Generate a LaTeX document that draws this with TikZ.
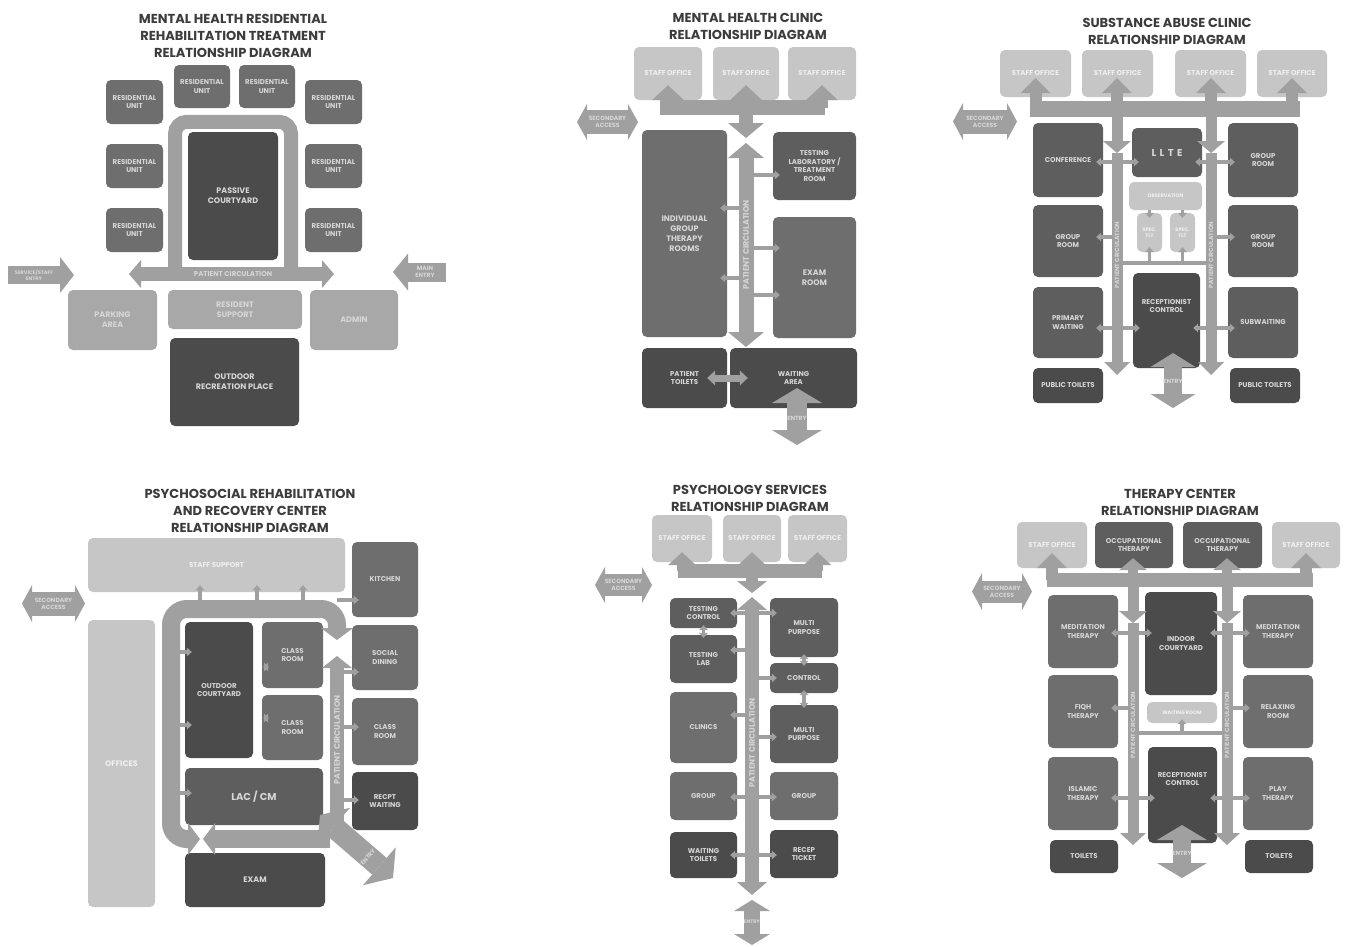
\documentclass[tikz,border=0pt]{standalone}
\usepackage{fontspec}
\setmainfont{Poppins}
\usetikzlibrary{arrows.meta}
\definecolor{dkgray}{HTML}{4B4B4B}
\definecolor{mdkgray}{HTML}{5E5E5E}
\definecolor{mdgray}{HTML}{6E6E6E}
\definecolor{ltgray}{HTML}{A8A8A8}
\definecolor{plgray}{HTML}{C6C6C6}
\definecolor{argray}{HTML}{A0A0A0}
\definecolor{txgray}{HTML}{D6D6D6}
\definecolor{ttgray}{HTML}{3C3C3C}
\def\fntt{\fontsize{13}{17}\bfseries\selectfont}
\def\fntxs{\fontsize{5}{6}\bfseries\selectfont}
\def\fntc{\fontsize{6}{7}\bfseries\selectfont}
\def\fnts{\fontsize{7}{8.5}\bfseries\selectfont}
\def\fntm{\fontsize{8}{10}\bfseries\selectfont}
\def\fntl{\fontsize{10}{12}\bfseries\selectfont}

\begin{document}
\begin{tikzpicture}[x=1pt,y=-1pt,
    room/.style={rounded corners=5pt,align=center,text=txgray,inner sep=1pt,font=\fnts},
    dark/.style={room,fill=dkgray},
    mdark/.style={room,fill=mdkgray},
    mid/.style={room,fill=mdgray},
    light/.style={room,fill=ltgray},
    pale/.style={room,fill=plgray,text=white!94!black},
    sz/.style 2 args={minimum width=#1pt,minimum height=#2pt},
    heading/.style={align=center,text=ttgray,font=\fntt},
    tag/.style={align=center,text=txgray,font=\fntc,inner sep=0pt},
    rail/.style={draw=argray,line width=#1pt},
    fat/.style n args={3}{draw=argray,line width=#1pt,-{Triangle[width=#2pt,length=#3pt,line width=0pt]}},
    fatb/.style n args={3}{draw=argray,line width=#1pt,{Triangle[width=#2pt,length=#3pt,line width=0pt]}-{Triangle[width=#2pt,length=#3pt,line width=0pt]}},
    link/.style={draw=argray,line width=3.5pt,shorten >=-7pt,-{Triangle[width=9pt,length=5pt,line width=0pt]}},
    linkb/.style={link,shorten <=-7pt,{Triangle[width=9pt,length=5pt,line width=0pt]}-{Triangle[width=9pt,length=5pt,line width=0pt]}}]
    \fill[white] (0,0) rectangle (1346,946);
    \useasboundingbox (0,0) rectangle (1346,946);

    \begin{scope}
        \node[heading] (T1) at (233,36) {MENTAL HEALTH RESIDENTIAL\\REHABILITATION TREATMENT\\RELATIONSHIP DIAGRAM};
        \node[mid,sz={57}{44}] (RU1) at (134.5,102) {RESIDENTIAL\\UNIT};
        \node[mid,sz={56}{43}] (RU2) at (202,86.5) {RESIDENTIAL\\UNIT};
        \node[mid,sz={56}{43}] (RU3) at (267,86.5) {RESIDENTIAL\\UNIT};
        \node[mid,sz={57}{44}] (RU4) at (333.5,102) {RESIDENTIAL\\UNIT};
        \node[mid,sz={57}{44}] (RU5) at (134.5,166) {RESIDENTIAL\\UNIT};
        \node[mid,sz={57}{44}] (RU6) at (333.5,166) {RESIDENTIAL\\UNIT};
        \node[mid,sz={57}{44}] (RU7) at (134.5,230) {RESIDENTIAL\\UNIT};
        \node[mid,sz={57}{44}] (RU8) at (333.5,230) {RESIDENTIAL\\UNIT};
        \node[dark,sz={90}{128},font=\fntm] (PC1) at (233,196) {PASSIVE\\COURTYARD};
        \node[light,sz={89}{60},font=\fntm] (PA1) at (112.5,320) {PARKING\\AREA};
        \node[light,sz={134}{39},font=\fntm] (RS1) at (235,309.5) {RESIDENT\\SUPPORT};
        \node[light,sz={88}{60},font=\fntm] (AD1) at (354,320) {ADMIN};
        \node[dark,sz={129}{88},font=\fntm] (OR1) at (234.5,382) {OUTDOOR\\RECREATION PLACE};

        \coordinate (UL1) at (175,274);
        \coordinate (UR1) at (291,274);
        \coordinate (CL1) at (129,274);
        \coordinate (CR1) at (334,274);
        \coordinate (SE1a) at (8,275);
        \coordinate (SE1b) at (74,275);
        \coordinate (ME1a) at (446,272);
        \coordinate (ME1b) at (393,272);
        \draw[rail=14,rounded corners=12pt] (UL1) |- ([yshift=10pt]PC1.north) -| (UR1);
        \draw[fatb={14}{28}{12}] (CL1) -- (CR1);
        \draw[fat={18}{36}{14}] (SE1a) -- (SE1b);
        \draw[fat={19}{37}{15}] (ME1a) -- (ME1b);
        \node[tag,font=\fnts] (PCT1) at (233,274) {PATIENT CIRCULATION};
        \node[tag,font=\fntxs] (SET1) at (34,275) {SERVICE/STAFF\\ENTRY};
        \node[tag] (MET1) at (425,272) {MAIN\\ENTRY};
    \end{scope}

    \begin{scope}
        \node[heading] (T2) at (748,26.5) {MENTAL HEALTH CLINIC\\RELATIONSHIP DIAGRAM};
        \node[pale,sz={68}{53}] (SO2a) at (668,73.5) {STAFF OFFICE};
        \node[pale,sz={66}{53}] (SO2b) at (746,73.5) {STAFF OFFICE};
        \node[pale,sz={68}{53}] (SO2c) at (822,73.5) {STAFF OFFICE};
        \node[mid,sz={85}{207},font=\fntm] (IG2) at (684.5,233.5) {INDIVIDUAL\\GROUP\\THERAPY\\ROOMS};
        \node[mdark,sz={83}{68}] (TL2) at (814.5,166) {TESTING\\LABORATORY /\\TREATMENT\\ROOM};
        \node[mid,sz={83}{121},font=\fntm] (ER2) at (814.5,277.5) {EXAM\\ROOM};
        \node[dark,sz={85}{60}] (PT2) at (684.5,378) {PATIENT\\TOILETS};
        \node[dark,sz={127}{60}] (WA2) at (793.5,378) {WAITING\\AREA};

        \coordinate (B2L) at (660,107.5);
        \coordinate (B2R) at (825,107.5);
        \coordinate (PC2t) at (746,143);
        \coordinate (PC2b) at (746,347);
        \coordinate (SA2a) at (577,122);
        \coordinate (SA2b) at (638,122);
        \coordinate (EN2a) at (797,388);
        \coordinate (EN2b) at (797,445);
        \draw[rail=15] (B2L) -- (B2R);
        \draw[fat={12}{32}{15},shorten >=-15pt] (SO2a |- B2L) -- (SO2a.south);
        \draw[fat={12}{32}{15},shorten >=-15pt] (SO2b |- B2L) -- (SO2b.south);
        \draw[fat={12}{32}{15},shorten >=-15pt] (SO2c |- B2L) -- (SO2c.south);
        \draw[fat={14}{36}{15},shorten >=5pt] (SO2b |- B2L) -- (PC2t);
        \draw[fatb={15}{36}{15}] (PC2t) -- (PC2b);
        \draw[link] (PC2t |- 0,208) -- (IG2.east |- 0,208);
        \draw[link] (PC2t |- 0,278) -- (IG2.east |- 0,278);
        \draw[link] (PC2t |- 0,175) -- (TL2.west |- 0,175);
        \draw[link] (PC2t |- 0,248) -- (ER2.west |- 0,248);
        \draw[link] (PC2t |- 0,295) -- (ER2.west |- 0,295);
        \draw[fatb={7}{15}{8},shorten <=-20pt,shorten >=-18pt] (PT2.east) -- (WA2.west);
        \draw[fatb={24}{36}{10}] (SA2a) -- (SA2b);
        \draw[fatb={20}{50}{15}] (EN2a) -- (EN2b);
        \node[tag,font=\fntm,rotate=90] (PCT2) at (746,245) {PATIENT CIRCULATION};
        \node[tag] (SAT2) at (607.5,122) {SECONDARY\\ACCESS};
        \node[tag] (ENT2) at (797,418) {ENTRY};
    \end{scope}

    \begin{scope}
        \node[heading] (T3) at (1167,31.5) {SUBSTANCE ABUSE CLINIC\\RELATIONSHIP DIAGRAM};
        \node[pale,sz={71}{47}] (SF3a) at (1035.5,73.5) {STAFF OFFICE};
        \node[pale,sz={71}{47}] (SF3b) at (1117.5,73.5) {STAFF OFFICE};
        \node[pale,sz={71}{47}] (SF3c) at (1210.5,73.5) {STAFF OFFICE};
        \node[pale,sz={70}{47}] (SF3d) at (1292,73.5) {STAFF OFFICE};
        \node[mdark,sz={70}{74}] (CF3) at (1068,160) {CONFERENCE};
        \node[mdark,sz={70}{49},font=\fntl] (LL3) at (1167,152.5) {L\,\,L\,\,T\,\,E};
        \node[mdark,sz={70}{74}] (GR3a) at (1263,160) {GROUP\\ROOM};
        \node[pale,sz={73}{28},font=\fntxs] (OB3) at (1165.5,196) {OBSERVATION};
        \node[pale,sz={25}{39},font=\fntxs] (ST3a) at (1149.5,232.5) {SPEC.\\TLT};
        \node[pale,sz={25}{39},font=\fntxs] (ST3b) at (1182.5,232.5) {SPEC.\\TLT};
        \node[mdark,sz={70}{72}] (GR3b) at (1068,241) {GROUP\\ROOM};
        \node[mdark,sz={70}{72}] (GR3c) at (1263,241) {GROUP\\ROOM};
        \node[mdark,sz={70}{71}] (PW3) at (1068,322.5) {PRIMARY\\WAITING};
        \node[dark,sz={67}{95}] (RC3) at (1166.5,320.5) {};
        \node[mdark,sz={70}{71}] (SW3) at (1263,322.5) {SUBWAITING};
        \node[dark,sz={70}{35}] (PT3a) at (1068,385.5) {PUBLIC TOILETS};
        \node[dark,sz={70}{35}] (PT3b) at (1265,385.5) {PUBLIC TOILETS};

        \coordinate (B3L) at (1030,108.5);
        \coordinate (B3R) at (1300,108.5);
        \coordinate (M3a) at (1117,153);
        \coordinate (M3b) at (1211,153);
        \coordinate (E3a) at (1117,375);
        \coordinate (E3b) at (1211,375);
        \coordinate (SA3a) at (953,121.5);
        \coordinate (SA3b) at (1017,121.5);
        \coordinate (EN3a) at (1173,353);
        \coordinate (EN3b) at (1173,408);
        \draw[rail=16] (B3L) -- (B3R);
        \draw[fat={12}{30}{15},shorten >=-19pt] (SF3a |- B3L) -- (SF3a.south);
        \draw[fat={12}{30}{15},shorten >=-19pt] (M3a |- B3L) -- (SF3b.south -| M3a);
        \draw[fat={12}{30}{15},shorten >=-19pt] (M3b |- B3L) -- (SF3c.south -| M3b);
        \draw[fat={12}{30}{15},shorten >=-19pt] (SF3d |- B3L) -- (SF3d.south);
        \draw[fat={11}{28}{12}] (M3a |- B3L) -- (M3a);
        \draw[fat={11}{28}{12}] (M3b |- B3L) -- (M3b);
        \draw[fat={11}{26}{13}] (M3a) -- (E3a);
        \draw[fat={11}{26}{13}] (M3b) -- (E3b);
        \draw[rail=4] (M3a |- 0,263) -- (M3b |- 0,263);
        \draw[link,shorten >=-5pt] (ST3a |- 0,263) -- (ST3a.south);
        \draw[link,shorten >=-5pt] (ST3b |- 0,263) -- (ST3b.south);
        \draw[link,shorten >=-5pt] (OB3.south -| ST3a) -- (ST3a.north);
        \draw[link,shorten >=-5pt] (OB3.south -| ST3b) -- (ST3b.north);
        \draw[link] (M3a |- 0,162) -- (CF3.east |- 0,162);
        \draw[link] (M3a |- 0,162) -- (LL3.west |- 0,162);
        \draw[link] (M3b |- 0,162) -- (LL3.east |- 0,162);
        \draw[link] (M3b |- 0,162) -- (GR3a.west |- 0,162);
        \draw[link] (M3a |- 0,237) -- (GR3b.east |- 0,237);
        \draw[link] (M3b |- 0,237) -- (GR3c.west |- 0,237);
        \draw[link] (M3a |- 0,328) -- (PW3.east |- 0,328);
        \draw[link] (M3a |- 0,328) -- (RC3.west |- 0,328);
        \draw[link] (M3b |- 0,328) -- (RC3.east |- 0,328);
        \draw[link] (M3b |- 0,328) -- (SW3.west |- 0,328);
        \draw[fatb={24}{37}{10}] (SA3a) -- (SA3b);
        \draw[fatb={18}{45}{14}] (EN3a) -- (EN3b);
        \node[room] (RCT3) at (1166.5,306) {RECEPTIONIST\\CONTROL};
        \node[tag,rotate=90] (PCT3a) at (1117,255) {PATIENT CIRCULATION};
        \node[tag,rotate=90] (PCT3b) at (1211,255) {PATIENT CIRCULATION};
        \node[tag] (SAT3) at (985,121.5) {SECONDARY\\ACCESS};
        \node[tag] (ENT3) at (1173,381) {ENTRY};
    \end{scope}

    \begin{scope}
        \node[heading] (T4) at (250,510.5) {PSYCHOSOCIAL REHABILITATION\\AND RECOVERY CENTER\\RELATIONSHIP DIAGRAM};
        \node[pale,sz={257}{54}] (SS4) at (216.5,565) {STAFF SUPPORT};
        \node[mid,sz={66}{75}] (KI4) at (385,579.5) {KITCHEN};
        \node[pale,sz={67}{287},font=\fntm] (OF4) at (121.5,763.5) {OFFICES};
        \node[dark,sz={68}{136}] (OC4) at (219,690) {OUTDOOR\\COURTYARD};
        \node[mid,sz={61}{66}] (CR4a) at (292.5,655) {CLASS\\ROOM};
        \node[mid,sz={61}{65}] (CR4b) at (292.5,727.5) {CLASS\\ROOM};
        \node[mid,sz={66}{65}] (SD4) at (385,657.5) {SOCIAL\\DINING};
        \node[mid,sz={66}{67}] (CR4c) at (385,731.5) {CLASS\\ROOM};
        \node[dark,sz={66}{58}] (RW4) at (385,801) {RECPT\\WAITING};
        \node[mdark,sz={138}{57},font=\fntl] (LC4) at (254,796.5) {LAC / CM};
        \node[dark,sz={140}{54},font=\fntm] (EX4) at (255,880) {EXAM};

        \coordinate (LB4) at (200,839);
        \coordinate (LC4c) at (171,609);
        \coordinate (LT4) at (337,640);
        \coordinate (HB4) at (330,839);
        \coordinate (PB4) at (337,825);
        \coordinate (PT4) at (337,656);
        \coordinate (SA4a) at (22,603.5);
        \coordinate (SA4b) at (85,603.5);
        \coordinate (EN4a) at (320,815);
        \coordinate (EN4b) at (393,878);
        \draw[fatb={18}{32}{12},rounded corners=16pt] (LB4) -| (LC4c) -| (LT4);
        \draw[fat={18}{32}{12}] (HB4) -- ([xshift=3pt]LB4);
        \draw[fat={14}{30}{12}] (PB4) -- (PT4);
        \draw[fatb={22}{50}{18}] (EN4a) -- (EN4b);
        \draw[link] (LC4c -| 200,0) -- (SS4.south -| 200,0);
        \draw[link] (LC4c -| 257,0) -- (SS4.south -| 257,0);
        \draw[link] (LC4c -| 303,0) -- (SS4.south -| 303,0);
        \draw[link] (LT4 |- 0,600) -- (KI4.west |- 0,600);
        \draw[link,shorten >=12pt] (LC4c |- 0,687) -- (OF4.east |- 0,687);
        \draw[link,shorten >=12pt] (LC4c |- 0,725) -- (OF4.east |- 0,725);
        \draw[link,shorten >=12pt] (LC4c |- 0,762) -- (OF4.east |- 0,762);
        \draw[link,shorten >=12pt] (LC4c |- 0,800) -- (OF4.east |- 0,800);
        \draw[link] (LC4c |- 0,652) -- (OC4.west |- 0,652);
        \draw[link] (LC4c |- 0,725) -- (OC4.west |- 0,725);
        \draw[link] (LC4c |- 0,793) -- (LC4.west |- 0,793);
        \draw[linkb,shorten <=10pt] (OC4.east |- 0,667) -- (CR4a.west |- 0,667);
        \draw[linkb,shorten <=10pt] (OC4.east |- 0,718) -- (CR4b.west |- 0,718);
        \draw[linkb,shorten <=8pt] (CR4a.east |- 0,672) -- (SD4.west |- 0,672);
        \draw[linkb,shorten <=8pt] (CR4b.east |- 0,727) -- (CR4c.west |- 0,727);
        \draw[link] (PB4 |- 0,800) -- (RW4.west |- 0,800);
        \draw[linkb,shorten <=8pt,shorten >=8pt] (LC4.south -| 230,0) -- (EX4.north -| 230,0);
        \draw[linkb,shorten <=8pt,shorten >=8pt] (LC4.south -| 267,0) -- (EX4.north -| 267,0);
        \draw[linkb,shorten <=8pt,shorten >=8pt] (LC4.south -| 302,0) -- (EX4.north -| 302,0);
        \draw[fatb={24}{37}{10}] (SA4a) -- (SA4b);
        \node[tag,font=\fntm,rotate=90] (PCT4) at (337,740) {PATIENT CIRCULATION};
        \node[tag] (SAT4) at (53.5,603.5) {SECONDARY\\ACCESS};
        \node[tag,rotate=50] (ENT4) at (368,857) {ENTRY};
    \end{scope}

    \begin{scope}
        \node[heading] (T5) at (750,498) {PSYCHOLOGY SERVICES\\RELATIONSHIP DIAGRAM};
        \node[pale,sz={60}{47}] (SO5a) at (682,538.5) {STAFF OFFICE};
        \node[pale,sz={58}{47}] (SO5b) at (752,538.5) {STAFF OFFICE};
        \node[pale,sz={59}{47}] (SO5c) at (817.5,538.5) {STAFF OFFICE};
        \node[mdark,sz={67}{30}] (TC5) at (703.5,613) {TESTING\\CONTROL};
        \node[mdark,sz={67}{48}] (TL5) at (703.5,659) {TESTING\\LAB};
        \node[mid,sz={67}{71}] (CL5) at (703.5,727.5) {CLINICS};
        \node[mid,sz={67}{48}] (GL5) at (703.5,796) {GROUP};
        \node[dark,sz={67}{46}] (WT5) at (703.5,855) {WAITING\\TOILETS};
        \node[mdark,sz={68}{59}] (MP5a) at (804,627.5) {MULTI\\PURPOSE};
        \node[mdark,sz={68}{30}] (CO5) at (804,678) {CONTROL};
        \node[mdark,sz={68}{58}] (MP5b) at (804,734) {MULTI\\PURPOSE};
        \node[mid,sz={68}{48}] (GR5) at (804,796) {GROUP};
        \node[dark,sz={68}{48}] (RT5) at (804,854) {RECEP\\TICKET};

        \coordinate (B5L) at (678,570.5);
        \coordinate (B5R) at (822,570.5);
        \coordinate (PC5t) at (752,597);
        \coordinate (PC5b) at (752,895);
        \coordinate (SA5a) at (595,585);
        \coordinate (SA5b) at (652,585);
        \coordinate (EN5a) at (752,900);
        \coordinate (EN5b) at (752,945);
        \draw[rail=14] (B5L) -- (B5R);
        \draw[fat={11}{28}{13},shorten >=-10pt] (SO5a |- B5L) -- (SO5a.south);
        \draw[fat={11}{28}{13},shorten >=-10pt] (SO5b |- B5L) -- (SO5b.south);
        \draw[fat={11}{28}{13},shorten >=-10pt] (SO5c |- B5L) -- (SO5c.south);
        \draw[fat={12}{30}{12},shorten >=4pt] (SO5b |- B5L) -- (PC5t);
        \draw[fatb={14}{30}{13}] (PC5t) -- (PC5b);
        \draw[link] (PC5t |- 0,613) -- (TC5.east |- 0,613);
        \draw[link] (PC5t |- 0,613) -- (MP5a.west |- 0,613);
        \draw[link] (PC5t |- 0,650) -- (TL5.east |- 0,650);
        \draw[link] (PC5t |- 0,678) -- (CO5.west |- 0,678);
        \draw[link] (PC5t |- 0,715) -- (CL5.east |- 0,715);
        \draw[link] (PC5t |- 0,737) -- (MP5b.west |- 0,737);
        \draw[link] (PC5t |- 0,797) -- (GL5.east |- 0,797);
        \draw[link] (PC5t |- 0,797) -- (GR5.west |- 0,797);
        \draw[link] (PC5t |- 0,855) -- (WT5.east |- 0,855);
        \draw[link] (PC5t |- 0,855) -- (RT5.west |- 0,855);
        \draw[linkb,shorten <=-3pt,shorten >=-3pt] (TC5.south) -- (TL5.north);
        \draw[linkb,shorten <=-3pt,shorten >=-3pt] (MP5a.south) -- (CO5.north);
        \draw[linkb,shorten <=-3pt,shorten >=-3pt] (CO5.south) -- (MP5b.north);
        \draw[fatb={22}{36}{10}] (SA5a) -- (SA5b);
        \draw[fatb={16}{36}{11}] (EN5a) -- (EN5b);
        \node[tag,font=\fntm,rotate=90] (PCT5) at (752,743) {PATIENT CIRCULATION};
        \node[tag] (SAT5) at (623.5,585) {SECONDARY\\ACCESS};
        \node[tag,font=\fntxs] (ENT5) at (752,922) {ENTRY};
    \end{scope}

    \begin{scope}
        \node[heading] (T6) at (1180,502.5) {THERAPY CENTER\\RELATIONSHIP DIAGRAM};
        \node[pale,sz={70}{46}] (SF6a) at (1052,545) {STAFF OFFICE};
        \node[mdark,sz={78}{46}] (OT6a) at (1134,545) {OCCUPATIONAL\\THERAPY};
        \node[mdark,sz={79}{46}] (OT6b) at (1222.5,545) {OCCUPATIONAL\\THERAPY};
        \node[pale,sz={68}{46}] (SF6b) at (1306,545) {STAFF OFFICE};
        \node[mid,sz={70}{73}] (MT6a) at (1083,631.5) {MEDITATION\\THERAPY};
        \node[dark,sz={72}{103}] (IC6) at (1181,643.5) {INDOOR\\COURTYARD};
        \node[mid,sz={70}{73}] (MT6b) at (1278,631.5) {MEDITATION\\THERAPY};
        \node[mid,sz={70}{73}] (FQ6) at (1083,711.5) {FIQH\\THERAPY};
        \node[pale,sz={70}{21},font=\fntxs] (WR6) at (1182,712.5) {WAITING ROOM};
        \node[mid,sz={70}{73}] (RR6) at (1278,711.5) {RELAXING\\ROOM};
        \node[mid,sz={70}{73}] (IT6) at (1083,793.5) {ISLAMIC\\THERAPY};
        \node[dark,sz={69}{96}] (RC6) at (1182.5,795) {};
        \node[mid,sz={70}{73}] (PT6) at (1278,793.5) {PLAY\\THERAPY};
        \node[dark,sz={68}{33}] (TL6a) at (1084,856.5) {TOILETS};
        \node[dark,sz={68}{33}] (TL6b) at (1279,856.5) {TOILETS};

        \coordinate (B6L) at (1047,580);
        \coordinate (B6R) at (1313,580);
        \coordinate (M6a) at (1133,623);
        \coordinate (M6b) at (1227,623);
        \coordinate (E6a) at (1133,845);
        \coordinate (E6b) at (1227,845);
        \coordinate (SA6a) at (972,591.5);
        \coordinate (SA6b) at (1032,591.5);
        \coordinate (EN6a) at (1182,825);
        \coordinate (EN6b) at (1182,878);
        \draw[rail=14] (B6L) -- (B6R);
        \draw[fat={12}{30}{15},shorten >=-15pt] (SF6a |- B6L) -- (SF6a.south);
        \draw[fat={10}{28}{12},shorten >=-10pt] (M6a |- B6L) -- (OT6a.south -| M6a);
        \draw[fat={10}{28}{12},shorten >=-10pt] (M6b |- B6L) -- (OT6b.south -| M6b);
        \draw[fat={12}{30}{15},shorten >=-15pt] (SF6b |- B6L) -- (SF6b.south);
        \draw[fat={11}{28}{12}] (M6a |- B6L) -- (M6a);
        \draw[fat={11}{28}{12}] (M6b |- B6L) -- (M6b);
        \draw[fat={11}{26}{12}] (M6a) -- (E6a);
        \draw[fat={11}{26}{12}] (M6b) -- (E6b);
        \draw[rail=4] (M6a |- 0,733) -- (M6b |- 0,733);
        \draw[link,shorten >=-4pt] (WR6 |- 0,733) -- (WR6.south);
        \draw[link] (M6a |- 0,633) -- (MT6a.east |- 0,633);
        \draw[link] (M6a |- 0,633) -- (IC6.west |- 0,633);
        \draw[link] (M6b |- 0,633) -- (IC6.east |- 0,633);
        \draw[link] (M6b |- 0,633) -- (MT6b.west |- 0,633);
        \draw[link] (M6a |- 0,708) -- (FQ6.east |- 0,708);
        \draw[link] (M6b |- 0,708) -- (RR6.west |- 0,708);
        \draw[link] (M6a |- 0,798) -- (IT6.east |- 0,798);
        \draw[link] (M6a |- 0,798) -- (RC6.west |- 0,798);
        \draw[link] (M6b |- 0,798) -- (RC6.east |- 0,798);
        \draw[link] (M6b |- 0,798) -- (PT6.west |- 0,798);
        \draw[fatb={22}{37}{10}] (SA6a) -- (SA6b);
        \draw[fatb={18}{50}{15}] (EN6a) -- (EN6b);
        \node[room] (RCT6) at (1182.5,779) {RECEPTIONIST\\CONTROL};
        \node[tag,rotate=90] (PCT6a) at (1133,725) {PATIENT CIRCULATION};
        \node[tag,rotate=90] (PCT6b) at (1227,725) {PATIENT CIRCULATION};
        \node[tag] (SAT6) at (1002,591.5) {SECONDARY\\ACCESS};
        \node[tag] (ENT6) at (1182,853) {ENTRY};
    \end{scope}
\end{tikzpicture}
\end{document}
